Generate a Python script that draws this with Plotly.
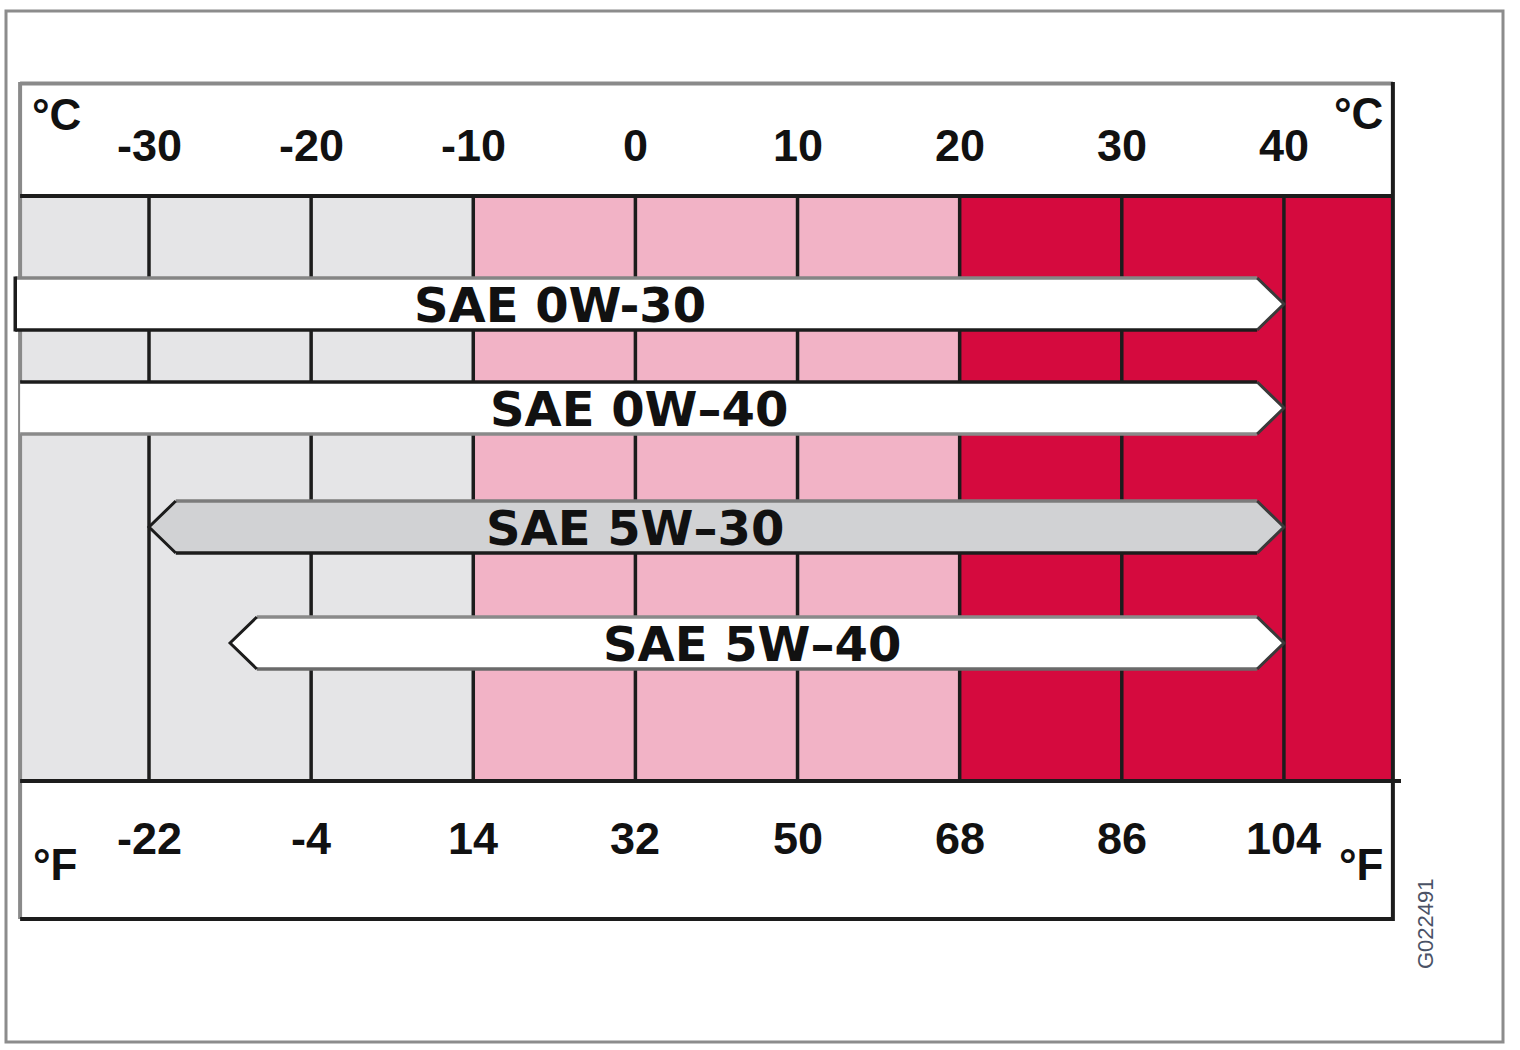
import plotly.graph_objects as go

# ---------------- data ----------------
celsius_ticks = [-30, -20, -10, 0, 10, 20, 30, 40]
fahrenheit_ticks = [-22, -4, 14, 32, 50, 68, 86, 104]
zone_edges = [-37.95, -10, 20, 46.72]          # cold | mild | hot
zone_colors = ["#e5e5e7", "#f2b3c6", "#d50a3e"]

oils = ["SAE 0W-30", "SAE 0W–40", "SAE 5W–30", "SAE 5W–40"]
oil_min = [-38.25, -37.95, -30, -25]
oil_max = [40, 40, 40, 40]
id_code = "G022491"

# ---------------- layout / style ----------------
W, H = 1520, 1050
X0 = -39.19      # temperature at left figure edge
X1 = 54.56       # temperature at right figure edge
row_top = [278, 382, 501, 617]
row_h = 52
label_x = [-4.65, 0.2, 0.0, 7.2]
head = 1.65
fills = ["#ffffff", "#ffffff", "#d1d2d4", "#ffffff"]
top_edge = ["#858585", "#1c1c1c", "#7c7c7c", "#8a8a8a"]
bot_edge = ["#1c1c1c", "#8a8a8a", "#1c1c1c", "#6a6a6a"]
left_kind = ["flat", "none", "arrow", "arrow"]
DARK = "#1c1c1c"
GRID_TOP, GRID_BOT = 196, 781


def px(xpix):
    return X0 + (X1 - X0) * xpix / W


fig = go.Figure()
shapes = []

# outer frame
shapes.append(dict(type="rect", xref="x", yref="y", x0=px(6), x1=px(1503), y0=11, y1=1042,
                   line=dict(color="#8c8c8c", width=3), layer="below"))

# temperature zones
for i, c in enumerate(zone_colors):
    shapes.append(dict(type="rect", xref="x", yref="y", x0=zone_edges[i], x1=zone_edges[i + 1],
                       y0=GRID_TOP, y1=GRID_BOT, fillcolor=c, line=dict(width=0), layer="below"))

# gridlines
for t in celsius_ticks:
    shapes.append(dict(type="line", xref="x", yref="y", x0=t, x1=t, y0=GRID_TOP, y1=GRID_BOT,
                       line=dict(color=DARK, width=3.5), layer="below"))

# inner box borders
shapes.append(dict(type="line", xref="x", yref="y", x0=zone_edges[0], x1=zone_edges[-1], y0=83.5, y1=83.5,
                   line=dict(color="#8a8a8a", width=4), layer="below"))
shapes.append(dict(type="line", xref="x", yref="y", x0=zone_edges[0], x1=zone_edges[0], y0=82, y1=919,
                   line=dict(color="#8a8a8a", width=4), layer="below"))
shapes.append(dict(type="line", xref="x", yref="y", x0=zone_edges[-1], x1=zone_edges[-1], y0=82, y1=921,
                   line=dict(color=DARK, width=4), layer="below"))
shapes.append(dict(type="line", xref="x", yref="y", x0=zone_edges[0], x1=zone_edges[-1], y0=919, y1=919,
                   line=dict(color=DARK, width=4), layer="below"))
shapes.append(dict(type="line", xref="x", yref="y", x0=zone_edges[0], x1=zone_edges[-1], y0=GRID_TOP, y1=GRID_TOP,
                   line=dict(color=DARK, width=4), layer="below"))
shapes.append(dict(type="line", xref="x", yref="y", x0=zone_edges[0], x1=px(1401), y0=GRID_BOT, y1=GRID_BOT,
                   line=dict(color=DARK, width=4), layer="below"))

# oil bars (arrows)
for i, name in enumerate(oils):
    lo, hi = oil_min[i], oil_max[i]
    top, bot = row_top[i], row_top[i] + row_h
    mid = (top + bot) / 2
    if left_kind[i] == "arrow":
        xs = [lo, lo + head, hi - head, hi, hi - head, lo + head, lo]
        ys = [mid, top, top, mid, bot, bot, mid]
        xl = lo + head
    else:
        xs = [lo, hi - head, hi, hi - head, lo, lo]
        ys = [top, top, mid, bot, bot, top]
        xl = lo
    fig.add_trace(go.Scatter(x=xs, y=ys, fill="toself", fillcolor=fills[i], mode="lines",
                             line=dict(width=0), hoverinfo="skip", showlegend=False))
    # edges
    fig.add_trace(go.Scatter(x=[xl, hi - head], y=[top, top], mode="lines",
                             line=dict(color=top_edge[i], width=3.5), hoverinfo="skip", showlegend=False))
    fig.add_trace(go.Scatter(x=[xl, hi - head], y=[bot, bot], mode="lines",
                             line=dict(color=bot_edge[i], width=3.5), hoverinfo="skip", showlegend=False))
    fig.add_trace(go.Scatter(x=[hi - head, hi, hi - head], y=[top, mid, bot], mode="lines",
                             line=dict(color="#3a3a3a", width=3), hoverinfo="skip", showlegend=False))
    if left_kind[i] == "arrow":
        fig.add_trace(go.Scatter(x=[lo + head, lo, lo + head], y=[top, mid, bot], mode="lines",
                                 line=dict(color=DARK, width=3), hoverinfo="skip", showlegend=False))
    elif left_kind[i] == "flat":
        fig.add_trace(go.Scatter(x=[lo, lo], y=[top - 1.5, bot + 1.5], mode="lines",
                                 line=dict(color=DARK, width=3.5), hoverinfo="skip", showlegend=False))

annotations = []
for i, name in enumerate(oils):
    annotations.append(dict(x=label_x[i], y=row_top[i] + row_h / 2 + 1, xref="x", yref="y", text=name,
                            showarrow=False, xanchor="center", yanchor="middle",
                            font=dict(family="DejaVu Sans", size=48, color="#111111", weight="bold")))

tick_font = dict(family="Liberation Sans", size=45, color="#111111", weight="bold")
for c, f in zip(celsius_ticks, fahrenheit_ticks):
    annotations.append(dict(x=c, y=145, xref="x", yref="y", text=str(c),
                            showarrow=False, xanchor="center", yanchor="middle", font=tick_font))
    annotations.append(dict(x=c, y=838, xref="x", yref="y", text=str(f),
                            showarrow=False, xanchor="center", yanchor="middle", font=tick_font))

unit_font = dict(family="Liberation Sans", size=44, color="#111111", weight="bold")
for xpix, ypix, txt in [(56, 114, "°C"), (1358, 113, "°C"), (55, 864, "°F"), (1361, 864, "°F")]:
    annotations.append(dict(x=px(xpix), y=ypix, xref="x", yref="y", text=txt, showarrow=False,
                            xanchor="center", yanchor="middle", font=unit_font))

annotations.append(dict(x=px(1425), y=924, xref="x", yref="y", text=id_code, showarrow=False,
                        textangle=-90, xanchor="center", yanchor="middle",
                        font=dict(family="Liberation Sans", size=22, color="#4a5266")))

fig.update_layout(
    width=W, height=H, margin=dict(l=0, r=0, t=0, b=0),
    paper_bgcolor="#ffffff", plot_bgcolor="#ffffff",
    xaxis=dict(range=[X0, X1], visible=False, fixedrange=True),
    yaxis=dict(range=[H, 0], visible=False, fixedrange=True),
    shapes=shapes, annotations=annotations, showlegend=False,
)

fig.write_html("out.html")
